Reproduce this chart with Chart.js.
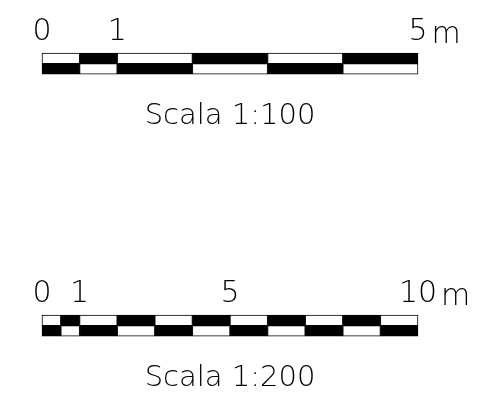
<!DOCTYPE html>
<html>
<head>
<meta charset="utf-8">
<script src="https://cdn.jsdelivr.net/npm/chart.js@4"></script>
<style>
  html, body { margin: 0; padding: 0; background: #fff; }
  body { width: 494px; height: 416px; position: relative; overflow: hidden; }
  .bar { position: absolute; left: 0; width: 494px; height: 150px; }
</style>
</head>
<body>
<div class="bar" style="top:0px"><canvas id="scale100"></canvas></div>
<div class="bar" style="top:262px"><canvas id="scale200"></canvas></div>
<script>
// scale 1:100 -> bar breaks in metres
const breaks100 = [0, 0.5, 1, 2, 3, 4, 5];
const ticks100 = [0, 1, 5];
const title100 = "Scala 1:100";

// scale 1:200
const breaks200 = [0, 0.5, 1, 2, 3, 4, 5, 6, 7, 8, 9, 10];
const ticks200 = [0, 1, 5, 10];
const title200 = "Scala 1:200";

const rows = ["upper", "lower"];
const unit = "m";

const FONT = "'DejaVu Sans', sans-serif";

// draws the unit just right of the last tick label, same baseline
const unitPlugin = {
  id: "unitLabel",
  afterDraw(chart) {
    const sx = chart.scales.x;
    const last = sx.ticks[sx.ticks.length - 1];
    const ctx = chart.ctx;
    ctx.save();
    ctx.font = "200 30px " + FONT;
    const w = ctx.measureText(String(last.value)).width;
    ctx.fillStyle = "#000";
    ctx.textBaseline = "bottom";
    ctx.textAlign = "left";
    ctx.fillText(unit, sx.getPixelForValue(last.value) + w / 2 + 4, sx.bottom - 3);
    ctx.restore();
  }
};

function makeScaleBar(id, breaks, tickVals, title) {
  const datasets = [];
  for (let i = 0; i < breaks.length - 1; i++) {
    const w = breaks[i + 1] - breaks[i];
    datasets.push({
      data: [w, w],
      backgroundColor: i % 2 === 0 ? ["#fff", "#000"] : ["#000", "#fff"],
      borderColor: "#000",
      borderWidth: 1,
      borderSkipped: false,
      barPercentage: 1,
      categoryPercentage: 1,
      clip: false
    });
  }

  new Chart(document.getElementById(id), {
    type: "bar",
    data: { labels: rows, datasets: datasets },
    options: {
      indexAxis: "y",
      responsive: true,
      maintainAspectRatio: false,
      animation: false,
      layout: { padding: { left: 42, right: 76, top: 11, bottom: 16 } },
      plugins: {
        legend: { display: false },
        tooltip: { enabled: false },
        title: {
          display: true,
          text: title,
          position: "bottom",
          color: "#000",
          font: { family: FONT, size: 29, weight: "200" },
          padding: { top: 25, bottom: 0 }
        }
      },
      scales: {
        x: {
          type: "linear",
          position: "top",
          stacked: true,
          min: breaks[0],
          max: breaks[breaks.length - 1],
          grid: { display: false, drawTicks: false },
          border: { display: false },
          afterBuildTicks: (scale) => {
            scale.ticks = tickVals.map((v) => ({ value: v }));
          },
          ticks: {
            autoSkip: false,
            maxRotation: 0,
            color: "#000",
            padding: 3,
            font: { family: FONT, size: 30, weight: "200" },
            callback: (v) => String(v)
          }
        },
        y: {
          stacked: true,
          display: false
        }
      }
    },
    plugins: [unitPlugin]
  });
}

makeScaleBar("scale100", breaks100, ticks100, title100);
makeScaleBar("scale200", breaks200, ticks200, title200);
</script>
</body>
</html>
